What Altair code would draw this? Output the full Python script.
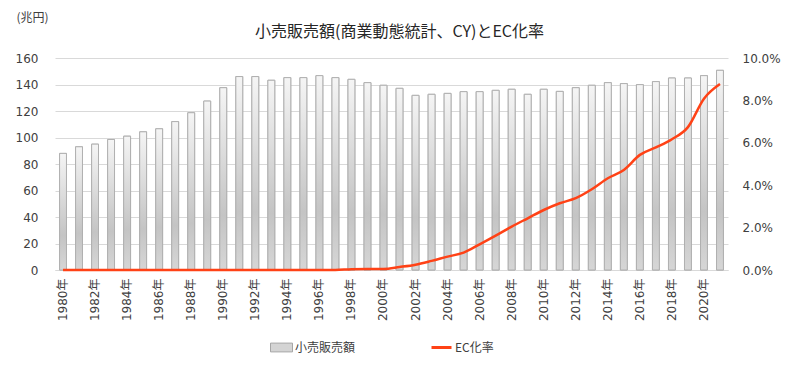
import altair as alt
import pandas as pd

years = list(range(1980, 2022))
year_labels = [f"{y}年" for y in years]
sales = [88, 93, 95, 98.5, 101, 104.3, 106.6, 112, 118.7, 127.5,
         137.6, 146, 146, 143.2, 145.2, 145.2, 146.7, 145.2, 143.9, 141.4,
         139.4, 137.1, 131.8, 132.6, 133.3, 134.6, 134.6, 135.6, 136.4, 132.6,
         136.4, 134.8, 137.6, 139.4, 141.4, 140.7, 139.9, 142.2, 144.9, 144.9,
         146.7, 150.7]
ec_rate = [0, 0, 0, 0, 0, 0, 0, 0, 0, 0,
           0, 0, 0, 0, 0, 0, 0, 0, 0.04, 0.05,
           0.05, 0.14, 0.25, 0.43, 0.63, 0.82, 1.21, 1.62, 2.05, 2.44,
           2.83, 3.15, 3.39, 3.81, 4.33, 4.72, 5.43, 5.78, 6.17, 6.74,
           8.08, 8.77]
tick_years = [f"{y}年" for y in years if y % 2 == 0]

df = pd.DataFrame({"year": year_labels, "sales": sales,
                   "ec": [v / 100 for v in ec_rate]})

FONT = "Noto Sans CJK JP"
NUMFONT = "DejaVu Sans, Noto Sans CJK JP"
TXT = "#404040"

xenc = alt.X("year:N", sort=year_labels,
             scale=alt.Scale(paddingInner=0.57, paddingOuter=0.285),
             axis=alt.Axis(title=None, values=tick_years, labelAngle=-90,
                           labelFontSize=12, labelColor=TXT, labelFont=NUMFONT,
                           ticks=False, domain=True, domainColor="#d9d9d9",
                           labelPadding=8, grid=False))

yleft = alt.Y("sales:Q", scale=alt.Scale(domain=[0, 160]),
              axis=alt.Axis(title="(兆円)", titleAngle=0, titleX=-23, titleY=-41,
                            titleAlign="center", titleBaseline="middle",
                            titleFont=FONT, titleFontSize=12, titleFontWeight="normal",
                            titleColor=TXT,
                            values=[0, 20, 40, 60, 80, 100, 120, 140, 160],
                            labelFontSize=12, labelColor=TXT, labelFont=NUMFONT,
                            ticks=False, domain=False, labelPadding=17,
                            gridColor="#d9d9d9", gridWidth=1))

legend_bar = alt.Legend(title=None, orient="none", legendX=215, legendY=278,
                        symbolType="M-1,-0.4L1,-0.4L1,0.4L-1,0.4Z", symbolSize=484,
                        symbolStrokeColor="#a6a6a6", symbolStrokeWidth=1,
                        labelFont=FONT, labelFontSize=12, labelColor=TXT,
                        labelOffset=2)
legend_line = alt.Legend(title=None, orient="none", legendX=375, legendY=278,
                         symbolType="stroke", symbolSize=400, symbolStrokeWidth=3,
                         labelFont=FONT, labelFontSize=12, labelColor=TXT,
                         labelOffset=2)

bars_legend = alt.Chart(df).mark_bar(stroke="#b0b0b0", strokeWidth=1).encode(
    x=xenc, y=yleft,
    fill=alt.Fill("k:N", scale=alt.Scale(domain=["小売販売額"], range=["#d4d4d4"]),
                  legend=legend_bar)
).transform_calculate(k="'小売販売額'")

bars = alt.Chart(df).mark_bar(
    stroke="#b0b0b0", strokeWidth=1,
    color=alt.Gradient(gradient="linear", x1=0, x2=0, y1=0, y2=1,
                       stops=[alt.GradientStop(offset=0, color="#f5f5f5"),
                              alt.GradientStop(offset=0.7, color="#c4c4c4"),
                              alt.GradientStop(offset=1, color="#d6d6d6")])
).encode(x=xenc, y=yleft)

line = alt.Chart(df).mark_line(strokeWidth=2.5, interpolate="monotone").encode(
    x=xenc,
    y=alt.Y("ec:Q", scale=alt.Scale(domain=[0, 0.10]),
            axis=alt.Axis(title=None, orient="right", format=".1%",
                          values=[0, 0.02, 0.04, 0.06, 0.08, 0.10],
                          labelFontSize=12, labelColor=TXT, labelFont=NUMFONT,
                          ticks=False, domain=False, grid=False, labelPadding=14)),
    stroke=alt.Stroke("k:N", scale=alt.Scale(domain=["EC化率"], range=["#ff4216"]),
                      legend=legend_line)
).transform_calculate(k="'EC化率'")

chart = alt.layer(alt.layer(bars_legend, bars), line).resolve_scale(
    y="independent", fill="independent", stroke="independent"
).properties(
    width=673, height=212,
    autosize=alt.AutoSizeParams(type="none"),
    padding={"left": 47, "top": 50, "right": 64, "bottom": 87},
    title=alt.TitleParams("小売販売額(商業動態統計、CY)とEC化率", font=FONT,
                          fontSize=16, fontWeight="normal", color="#262626",
                          anchor="middle", frame="group", offset=0, dx=8, dy=29)
).configure_view(stroke=None).configure_legend(padding=0)

chart.save("out.html", embed_options={"renderer": "svg", "actions": False})
